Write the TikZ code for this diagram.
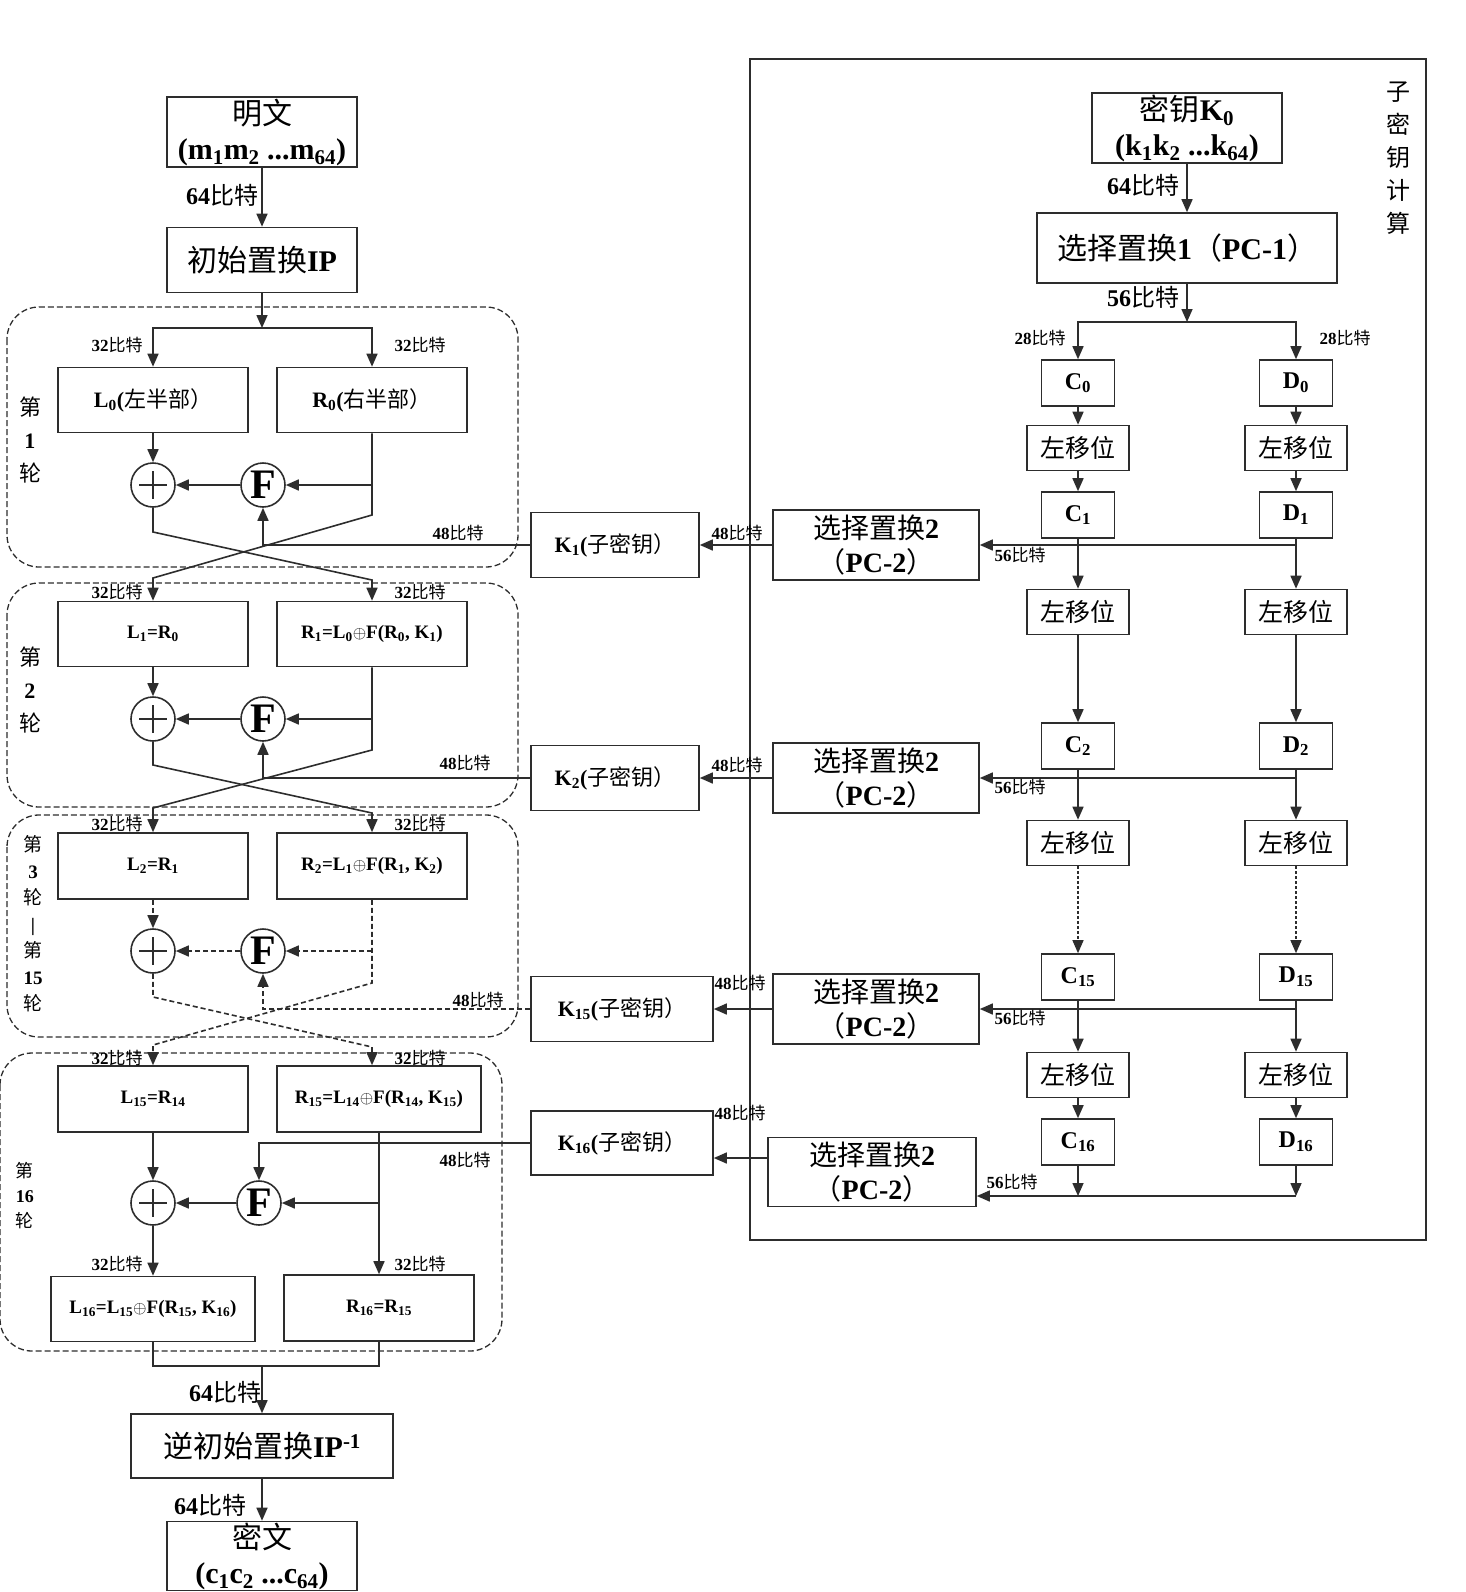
\documentclass[tikz,border=0pt]{standalone}
\usepackage{fontspec}
\setmainfont{Liberation Serif}
\newfontfamily\cjkfont{Noto Sans CJK SC}
\newcommand\zh[1]{{\cjkfont\mdseries #1}}
\usetikzlibrary{arrows.meta}
\definecolor{ink}{RGB}{45,45,45}

\begin{document}
\begin{tikzpicture}[x=1pt, y=-1pt, line width=1.6pt, draw=ink,
    >={Triangle[length=13pt,width=11pt]}]
  \tikzset{
    bx/.style={draw, inner sep=0pt, align=center, font=\bfseries\fontsize{30}{35}\selectfont},
    md/.style={bx, minimum width=190pt, minimum height=65pt, font=\bfseries\fontsize{22}{26}\selectfont},
    eq/.style={bx, minimum width=190pt, minimum height=65pt, font=\bfseries\fontsize{19}{22}\selectfont},
    pcb/.style={bx, minimum width=206pt, minimum height=70pt, font=\bfseries\fontsize{28}{34}\selectfont},
    kb/.style={bx, minimum width=168pt, minimum height=65pt, font=\bfseries\fontsize{22}{26}\selectfont},
    cd/.style={bx, minimum width=73pt, minimum height=46pt, font=\bfseries\fontsize{24}{26}\selectfont},
    ls/.style={bx, minimum width=102pt, minimum height=45pt, font=\fontsize{25}{27}\selectfont},
    lb/.style={inner sep=0pt, font=\bfseries\fontsize{17}{19}\selectfont},
    lbb/.style={inner sep=0pt, font=\bfseries\fontsize{24}{26}\selectfont},
    vt/.style={inner sep=0pt, align=center, font=\bfseries\fontsize{22}{33}\selectfont},
    xr/.style={circle, draw, minimum size=44pt, inner sep=0pt,
      path picture={\draw[line width=2.4pt]
        ([yshift=-8pt]path picture bounding box.north) -- ([yshift=8pt]path picture bounding box.south)
        ([xshift=8pt]path picture bounding box.west) -- ([xshift=-8pt]path picture bounding box.east);}},
    ff/.style={circle, draw, minimum size=44pt, inner sep=0pt, font=\bfseries\fontsize{42}{42}\selectfont},
    rnd/.style={draw, dash pattern=on 6pt off 3pt, rounded corners=32pt, line width=1.3pt},
    dl/.style={dash pattern=on 5pt off 3pt},
  }
  \useasboundingbox (0,0) rectangle (1466,1592);

  % rounds, dashed frames
  \draw[rnd] (7,307) rectangle (518,567);
  \draw[rnd] (7,583) rectangle (518,807);
  \draw[rnd] (7,815) rectangle (518,1037);
  \draw[rnd] (0,1053) rectangle (502,1351);

  % subkey frame
  \draw (750,59) rectangle (1426,1240);

  % left side: data path
  \node[bx, minimum width=190pt, minimum height=70pt] (pt) at (262,132)
    {\zh{明文}\\(m\textsubscript{1}m\textsubscript{2} ...m\textsubscript{64})};
  \node[bx, minimum width=190pt, minimum height=65pt] (ip) at (262,260) {\zh{初始置换}IP};
  \coordinate (s1) at (262,328);

  \node[md] (l0) at (153,400) {L\textsubscript{0}(\zh{左半部）}};
  \node[md] (r0) at (372,400) {R\textsubscript{0}(\zh{右半部）}};
  \node[xr] (xor1) at (153,485) {};
  \node[ff] (f1) at (263,485) {F};

  \node[eq] (l1) at (153,634) {L\textsubscript{1}=R\textsubscript{0}};
  \node[eq] (r1) at (372,634) {R\textsubscript{1}=L\textsubscript{0}$\oplus$F(R\textsubscript{0}, K\textsubscript{1})};
  \node[xr] (xor2) at (153,719) {};
  \node[ff] (f2) at (263,719) {F};

  \node[eq, minimum height=66pt] (l2) at (153,866) {L\textsubscript{2}=R\textsubscript{1}};
  \node[eq, minimum height=66pt] (r2) at (372,866) {R\textsubscript{2}=L\textsubscript{1}$\oplus$F(R\textsubscript{1}, K\textsubscript{2})};
  \node[xr] (xor3) at (153,951) {};
  \node[ff] (f3) at (263,951) {F};

  \node[eq, minimum height=66pt] (l15) at (153,1099) {L\textsubscript{15}=R\textsubscript{14}};
  \node[eq, minimum width=204pt, minimum height=66pt] (r15) at (379,1099)
    {R\textsubscript{15}=L\textsubscript{14}$\oplus$F(R\textsubscript{14}, K\textsubscript{15})};
  \node[xr] (xor16) at (153,1203) {};
  \node[ff] (f16) at (259,1203) {F};
  \node[eq, minimum width=204pt] (l16) at (153,1309)
    {L\textsubscript{16}=L\textsubscript{15}$\oplus$F(R\textsubscript{15}, K\textsubscript{16})};
  \node[eq, minimum height=66pt] (r16) at (379,1308) {R\textsubscript{16}=R\textsubscript{15}};

  \node[bx, minimum width=262pt, minimum height=64pt] (ipinv) at (262,1446)
    {\zh{逆初始置换}IP\textsuperscript{-1}};
  \node[bx, minimum width=190pt, minimum height=69pt] (ct) at (262,1556)
    {\zh{密文}\\(c\textsubscript{1}c\textsubscript{2} ...c\textsubscript{64})};

  % round labels
  \node[vt] (rd1) at (30,440) {\zh{第}\\1\\\zh{轮}};
  \node[vt] (rd2) at (30,690) {\zh{第}\\2\\\zh{轮}};
  \node[vt, font=\bfseries\fontsize{19}{26.5}\selectfont] (rd3) at (33,924)
    {\zh{第}\\3\\\zh{轮}\\|\\\zh{第}\\15\\\zh{轮}};
  \node[vt, font=\bfseries\fontsize{18}{25}\selectfont] (rd16) at (25,1196) {\zh{第}\\16\\\zh{轮}};

  % bit labels, left
  \node[lbb] (b64a) at (222,195) {64\zh{比特}};
  \node[lb] (b32a) at (117,345) {32\zh{比特}};
  \node[lb] (b32b) at (420,345) {32\zh{比特}};
  \node[lb] (b32c) at (117,592) {32\zh{比特}};
  \node[lb] (b32d) at (420,592) {32\zh{比特}};
  \node[lb] (b32e) at (117,824) {32\zh{比特}};
  \node[lb] (b32f) at (420,824) {32\zh{比特}};
  \node[lb] (b32g) at (117,1058) {32\zh{比特}};
  \node[lb] (b32h) at (420,1058) {32\zh{比特}};
  \node[lb] (b32i) at (117,1264) {32\zh{比特}};
  \node[lb] (b32j) at (420,1264) {32\zh{比特}};
  \node[lb] (b48a) at (458,533) {48\zh{比特}};
  \node[lb] (b48b) at (465,763) {48\zh{比特}};
  \node[lb] (b48c) at (478,1000) {48\zh{比特}};
  \node[lb] (b48d) at (465,1160) {48\zh{比特}};
  \node[lbb] (b64b) at (225,1392) {64\zh{比特}};
  \node[lbb] (b64c) at (210,1505) {64\zh{比特}};

  % data path connectors
  \draw[->] (pt) -- (ip);
  \draw[->] (ip) -- (s1);
  \draw[->] (s1) -| (l0);
  \draw[->] (s1) -| (r0);

  \draw[->] (l0) -- (xor1);
  \draw[->] (r0.south |- f1) -- (f1);
  \draw[->] (f1) -- (xor1);
  \draw[->] (r0) -- (372,515) -- (153,578) -- (l1);
  \draw[->] (xor1) -- (153,532) -- (372,580) -- (r1);

  \draw[->] (l1) -- (xor2);
  \draw[->] (r1.south |- f2) -- (f2);
  \draw[->] (f2) -- (xor2);
  \draw[->] (r1) -- (372,750) -- (153,808) -- (l2);
  \draw[->] (xor2) -- (153,765) -- (372,813) -- (r2);

  \draw[->, dl] (l2) -- (xor3);
  \draw[->, dl] (r2.south |- f3) -- (f3);
  \draw[->, dl] (f3) -- (xor3);
  \draw[->, dl] (r2) -- (372,983) -- (153,1045) -- (l15);
  \draw[->, dl] (xor3) -- (153,997) -- (372,1047) -- (r2.south |- r15.north);

  \draw[->] (l15) -- (xor16);
  \draw[->] (r15) -- (r16);
  \draw[->] (r15.south |- f16) -- (f16);
  \draw[->] (f16) -- (xor16);
  \draw[->] (xor16) -- (l16);
  \draw (l16) -- (153,1366) -- (379,1366) -- (r16);
  \draw[->] (262,1366) -- (ipinv);
  \draw[->] (ipinv) -- (ct);

  % subkeys
  \node[kb] (k1) at (615,545) {K\textsubscript{1}(\zh{子密钥）}};
  \node[kb] (k2) at (615,778) {K\textsubscript{2}(\zh{子密钥）}};
  \node[kb, minimum width=182pt] (k15) at (622,1009) {K\textsubscript{15}(\zh{子密钥）}};
  \node[kb, minimum width=182pt, minimum height=64pt] (k16) at (622,1143) {K\textsubscript{16}(\zh{子密钥）}};

  \node[pcb] (pc21) at (876,545) {\zh{选择置换}2\\\zh{（}PC-2\zh{）}};
  \node[pcb] (pc22) at (876,778) {\zh{选择置换}2\\\zh{（}PC-2\zh{）}};
  \node[pcb] (pc215) at (876,1009) {\zh{选择置换}2\\\zh{（}PC-2\zh{）}};
  \node[pcb, minimum width=208pt, minimum height=69pt] (pc216) at (872,1172) {\zh{选择置换}2\\\zh{（}PC-2\zh{）}};

  \draw[->] (k1) -| (f1);
  \draw[->] (k2) -| (f2);
  \draw[->, dl] (k15) -| (f3);
  \draw[->] (k16) -| (f16);

  \draw[->] (pc21) -- (k1);
  \draw[->] (pc22) -- (k2);
  \draw[->] (pc215) -- (k15);
  \coordinate (q16) at ([yshift=14pt]pc216.west);
  \draw[->] (q16) -- (q16 -| k16.east);

  \node[lb] (b48e) at (737,533) {48\zh{比特}};
  \node[lb] (b48f) at (737,765) {48\zh{比特}};
  \node[lb] (b48g) at (740,983) {48\zh{比特}};
  \node[lb] (b48h) at (740,1113) {48\zh{比特}};

  % key schedule
  \node[bx, minimum width=190pt, minimum height=70pt] (key) at (1187,128)
    {\zh{密钥}K\textsubscript{0}\\(k\textsubscript{1}k\textsubscript{2} ...k\textsubscript{64})};
  \node[bx, minimum width=300pt, minimum height=70pt] (pc1) at (1187,248)
    {\zh{选择置换}1\zh{（}PC-1\zh{）}};
  \coordinate (s2) at (1187,322);
  \draw[->] (key) -- (pc1);
  \draw[->] (pc1) -- (s2);

  \foreach \n/\x/\L in {c/1078/C, d/1296/D} {
    \node[cd] (\n0) at (\x,383) {\L\textsubscript{0}};
    \node[ls] (\n1s) at (\x,448) {\zh{左移位}};
    \node[cd] (\n1) at (\x,515) {\L\textsubscript{1}};
    \node[ls] (\n2s) at (\x,612) {\zh{左移位}};
    \node[cd] (\n2) at (\x,746) {\L\textsubscript{2}};
    \node[ls] (\n3s) at (\x,843) {\zh{左移位}};
    \node[cd] (\n15) at (\x,977) {\L\textsubscript{15}};
    \node[ls] (\n16s) at (\x,1075) {\zh{左移位}};
    \node[cd] (\n16) at (\x,1142) {\L\textsubscript{16}};
    \draw[->] (s2) -| (\n0);
    \draw[->] (\n0) -- (\n1s);
    \draw[->] (\n1s) -- (\n1);
    \draw[->] (\n1) -- (\n2s);
    \draw[->] (\n2s) -- (\n2);
    \draw[->] (\n2) -- (\n3s);
    \draw[->, densely dashed, line width=1.2pt] (\n3s) -- (\n15);
    \draw[->] (\n15) -- (\n16s);
    \draw[->] (\n16s) -- (\n16);
  }

  \coordinate (j1) at (1296,545);
  \coordinate (j2) at (1296,778);
  \coordinate (j15) at (1296,1009);
  \coordinate (j16) at (1296,1196);
  \draw[->] (j1) -- (pc21);
  \draw[->] (j2) -- (pc22);
  \draw[->] (j15) -- (pc215);
  \draw[->] (c16) -- (c16 |- j16);
  \draw[->] (d16) -- (j16);
  \draw[->] (j16) -- (j16 -| pc216.east);

  \node[lbb] (b64d) at (1143,185) {64\zh{比特}};
  \node[lbb] (b56a) at (1143,297) {56\zh{比特}};
  \node[lb] (b28a) at (1040,338) {28\zh{比特}};
  \node[lb] (b28b) at (1345,338) {28\zh{比特}};
  \node[lb] (b56b) at (1020,555) {56\zh{比特}};
  \node[lb] (b56c) at (1020,787) {56\zh{比特}};
  \node[lb] (b56d) at (1020,1018) {56\zh{比特}};
  \node[lb] (b56e) at (1012,1182) {56\zh{比特}};

  \node[vt, font=\fontsize{24}{33}\selectfont] (sk) at (1398,158)
    {\zh{子}\\\zh{密}\\\zh{钥}\\\zh{计}\\\zh{算}};
\end{tikzpicture}
\end{document}
